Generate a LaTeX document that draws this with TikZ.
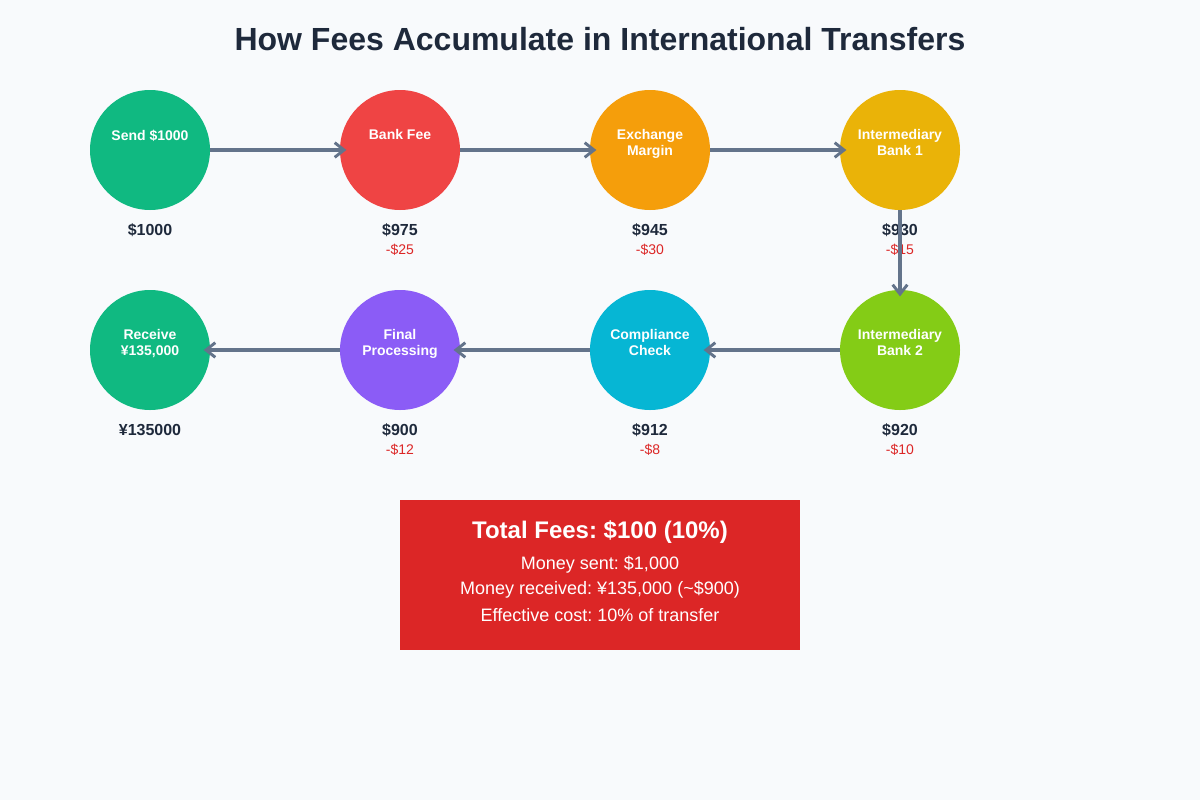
\documentclass[tikz,border=0pt]{standalone}
\usepackage{fontspec}
\setmainfont{Liberation Sans}
\usetikzlibrary{arrows.meta}
\frenchspacing
\definecolor{bg}{HTML}{F8FAFC}
\definecolor{ink}{HTML}{1E293B}
\definecolor{arr}{HTML}{64748B}
\definecolor{feered}{HTML}{DC2626}
\definecolor{cgreen}{HTML}{10B981}
\definecolor{cred}{HTML}{EF4444}
\definecolor{corange}{HTML}{F59E0B}
\definecolor{cyellow}{HTML}{EAB308}
\definecolor{clime}{HTML}{84CC16}
\definecolor{ccyan}{HTML}{06B6D4}
\definecolor{cpurple}{HTML}{8B5CF6}
\tikzset{
  stage/.style={circle,minimum size=90pt,inner sep=0pt},
  stagetext/.style={text=white,font=\fontsize{10.5}{12}\selectfont\bfseries,align=center,anchor=north},
  valtext/.style={text=ink,font=\fontsize{12}{14}\selectfont\bfseries},
  feetext/.style={text=feered,font=\fontsize{10.5}{12}\selectfont},
  flow/.style={draw=arr,line width=2.4pt,-{Straight Barb[length=7pt,width=11pt,line width=2.2pt]}},
}
\begin{document}
\frenchspacing
\begin{tikzpicture}[x=0.75pt,y=-0.75pt]
\fill[bg] (0,0) rectangle (1200,800);
\useasboundingbox (0,0) rectangle (1200,800);
\node[text=ink,font=\fontsize{24}{28}\selectfont\bfseries] (title) at (600,39) {How Fees Accumulate in International Transfers};
% row 1
\node[stage,fill=cgreen] (s1) at (150,150) {};
\node[stage,fill=cred] (s2) at (400,150) {};
\node[stage,fill=corange] (s3) at (650,150) {};
\node[stage,fill=cyellow] (s4) at (900,150) {};
% row 2
\node[stage,fill=clime] (s5) at (900,350) {};
\node[stage,fill=ccyan] (s6) at (650,350) {};
\node[stage,fill=cpurple] (s7) at (400,350) {};
\node[stage,fill=cgreen] (s8) at (150,350) {};
% circle texts
\node[stagetext] (t1) at (150,125) {Send \$1000};
\node[stagetext] (t2) at (400,125) {Bank Fee};
\node[stagetext] (t3) at (650,125) {Exchange\\Margin};
\node[stagetext] (t4) at (900,125) {Intermediary\\Bank 1};
\node[stagetext] (t5) at (900,325) {Intermediary\\Bank 2};
\node[stagetext] (t6) at (650,325) {Compliance\\Check};
\node[stagetext] (t7) at (400,325) {Final\\Processing};
\node[stagetext] (t8) at (150,325) {Receive\\¥135,000};
% values
\node[valtext] (v1) at (150,230) {\$1000};
\node[valtext] (v2) at (400,230) {\$975};
\node[feetext] (f2) at (400,250) {-\$25};
\node[valtext] (v3) at (650,230) {\$945};
\node[feetext] (f3) at (650,250) {-\$30};
\node[valtext] (v4) at (900,230) {\$930};
\node[feetext] (f4) at (900,250) {-\$15};
\node[valtext] (v5) at (900,430) {\$920};
\node[feetext] (f5) at (900,450) {-\$10};
\node[valtext] (v6) at (650,430) {\$912};
\node[feetext] (f6) at (650,450) {-\$8};
\node[valtext] (v7) at (400,430) {\$900};
\node[feetext] (f7) at (400,450) {-\$12};
\node[valtext] (v8) at (150,430) {¥135000};
% arrows
\draw[flow,shorten >=-5pt] (s1.east) -- (s2.west);
\draw[flow,shorten >=-5pt] (s2.east) -- (s3.west);
\draw[flow,shorten >=-5pt] (s3.east) -- (s4.west);
\draw[flow,shorten >=-5pt] (s4.south) -- (s5.north);
\draw[flow,shorten >=-5pt] (s5.west) -- (s6.east);
\draw[flow,shorten >=-5pt] (s6.west) -- (s7.east);
\draw[flow,shorten >=-5pt] (s7.west) -- (s8.east);
% summary box
\node[fill=feered,minimum width=300pt,minimum height=112.5pt,inner sep=0pt] (box) at (600,575) {};
\node[text=white,font=\fontsize{18}{21}\selectfont\bfseries] (bt) at (600,532) {Total Fees: \$100 (10\%)};
\node[text=white,font=\fontsize{13.5}{16}\selectfont] (b1) at (600,565) {Money sent: \$1,000};
\node[text=white,font=\fontsize{13.5}{16}\selectfont] (b2) at (600,590) {Money received: ¥135,000 (\textasciitilde\$900)};
\node[text=white,font=\fontsize{13.5}{16}\selectfont] (b3) at (600,615) {Effective cost: 10\% of transfer};
\end{tikzpicture}
\end{document}
